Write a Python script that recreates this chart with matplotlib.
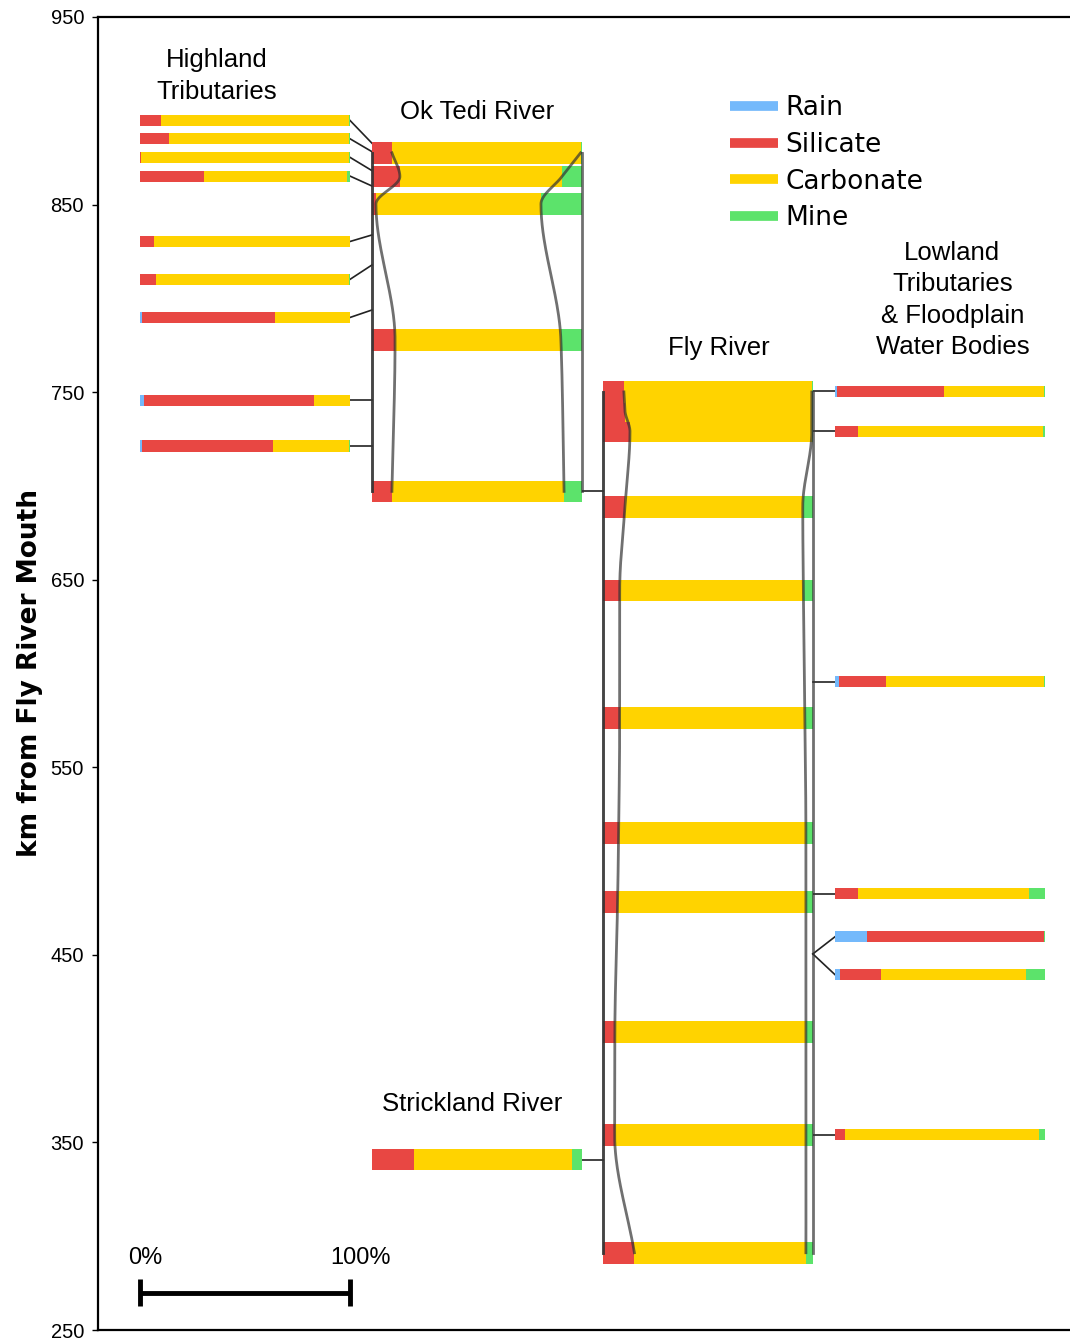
import numpy as np
import matplotlib.pyplot as plt
from matplotlib.lines import Line2D

# source names and colours
src_names = ['Rain', 'Silicate', 'Carbonate', 'Mine']
src_colors = ['#74b9fb', '#e84743', '#ffd300', '#5ce36b']

# Highland tributaries (% of each source)
hl_km = [894.9, 885.1, 875.2, 865.2, 830.3, 810.1, 789.8, 745.6, 721.3]
hl_join = [882.7, 878.2, 868.1, 859.9, 833.8, 817.8, 793.8, 745.6, 721.3]
hl_rain = [0, 0, 0, 0, 0, 0, 1, 2, 1]
hl_sil = [10, 14, 0.5, 30.5, 6.7, 7.7, 63.5, 81, 62.5]
hl_carb = [89.5, 85.5, 99, 68, 93.3, 92, 35.5, 17, 36.2]
hl_mine = [0.5, 0.5, 0.5, 1.5, 0, 0.3, 0, 0, 0.3]

# Ok Tedi River
ot_km = [877.6, 864.9, 850.3, 777.8, 697.1]
ot_rain = [0, 0, 0, 0, 0]
ot_sil = [9.5, 13.3, 1.9, 11, 9.5]
ot_carb = [89.9, 77.2, 78.6, 79, 82]
ot_mine = [0.6, 9.5, 19.5, 10, 8.5]

# Strickland River
st_km = [340.8]
st_rain = [0]
st_sil = [20]
st_carb = [75.3]
st_mine = [4.7]

# Fly River
fly_km = [750.1, 740.0, 729.0, 688.8, 644.3, 576.3, 515.0, 478.3, 409.0, 354.0, 291.2]
fly_rain = [0, 0, 0, 0, 0, 0, 0, 0, 0, 0, 0]
fly_sil = [10, 10.5, 12.9, 10.5, 8, 8, 7.5, 7, 5.7, 5.6, 15]
fly_carb = [89.5, 89, 86.6, 84.7, 87.5, 88.2, 89.2, 89.7, 91, 91.2, 81.7]
fly_mine = [0.5, 0.5, 0.5, 4.8, 4.5, 3.8, 3.3, 3.3, 3.3, 3.2, 3.3]

# Lowland tributaries & floodplain water bodies
low_km = [750.4, 729.2, 595.5, 482.7, 459.6, 439.5, 354.0]
low_join = [750.4, 729.2, 595.5, 482.7, 450.5, 450.5, 354.0]
low_rain = [1, 0, 2, 0, 15.5, 2.5, 0]
low_sil = [51, 11, 22.5, 11, 84, 19.5, 5]
low_carb = [47.5, 88, 75.3, 81.4, 0, 69.2, 92]
low_mine = [0.5, 1, 0.2, 7.6, 0.5, 8.8, 3]

# column offsets (x axis is in %, one bar = 100)
hl_x, ot_x, fly_x, low_x = 0, 110.5, 220.5, 331
thin, thick = 5.9, 11.5


def stacked(ax, x0, km, parts, h):
    left = np.full(len(km), float(x0))
    for vals, c in zip(parts, src_colors):
        vals = np.asarray(vals, float)
        ax.barh(km, vals, left=left, height=h, color=c, edgecolor='none', zorder=2)
        left = left + vals


def smooth_path(km, xs, n=40):
    # monotone cubic (pchip style) through the bar centres, x as a function of km
    km = np.asarray(km, float)
    xs = np.asarray(xs, float)
    h = np.diff(km)
    d = np.diff(xs) / h
    m = np.zeros(len(km))
    m[0], m[-1] = d[0], d[-1]
    for k in range(1, len(km) - 1):
        if d[k - 1] * d[k] > 0:
            w1 = 2 * abs(h[k]) + abs(h[k - 1])
            w2 = abs(h[k]) + 2 * abs(h[k - 1])
            m[k] = (w1 + w2) / (w1 / d[k - 1] + w2 / d[k])
    t = np.linspace(0, 1, n)
    h00 = 2 * t**3 - 3 * t**2 + 1
    h10 = t**3 - 2 * t**2 + t
    h01 = -2 * t**3 + 3 * t**2
    h11 = t**3 - t**2
    xx, yy = [], []
    for i in range(len(km) - 1):
        xx.append(h00 * xs[i] + h10 * h[i] * m[i] + h01 * xs[i + 1] + h11 * h[i] * m[i + 1])
        yy.append(km[i] + t * h[i])
    return np.concatenate(xx), np.concatenate(yy)


def boundaries(ax, x0, km, parts):
    cum = np.zeros(len(km))
    edges = [cum.copy()]
    for vals in parts:
        cum = cum + np.asarray(vals, float)
        edges.append(cum.copy())
    for e in edges:
        xs, ys = smooth_path(km, x0 + e)
        ax.plot(xs, ys, color='#333333', lw=2, alpha=0.7, zorder=3)


fig = plt.figure(figsize=(10.7, 13.41), dpi=100)
ax = fig.add_axes([98 / 1070, 1 - 1330 / 1341, 1 - 98 / 1070, (1330 - 17) / 1341])

stacked(ax, hl_x, hl_km, [hl_rain, hl_sil, hl_carb, hl_mine], thin)
stacked(ax, ot_x, ot_km, [ot_rain, ot_sil, ot_carb, ot_mine], thick)
stacked(ax, ot_x, st_km, [st_rain, st_sil, st_carb, st_mine], thick)
stacked(ax, fly_x, fly_km, [fly_rain, fly_sil, fly_carb, fly_mine], thick)
stacked(ax, low_x, low_km, [low_rain, low_sil, low_carb, low_mine], thin)

boundaries(ax, ot_x, ot_km, [ot_rain, ot_sil, ot_carb, ot_mine])
boundaries(ax, fly_x, fly_km, [fly_rain, fly_sil, fly_carb, fly_mine])

# connectors
for k, j in zip(hl_km, hl_join):
    ax.plot([hl_x + 100, ot_x], [k, j], color='#222222', lw=1.2, zorder=1)
for k, j in zip(low_km, low_join):
    ax.plot([fly_x + 100, low_x], [j, k], color='#222222', lw=1.2, zorder=1)
ax.plot([ot_x + 100, fly_x], [ot_km[-1], ot_km[-1]], color='#222222', lw=1.2, zorder=1)
ax.plot([ot_x + 100, fly_x], [st_km[0], st_km[0]], color='#222222', lw=1.2, zorder=1)

# group labels
lab = dict(family='Liberation Sans', ha='center', va='center', fontsize=18.5, linespacing=1.38)
ax.text(36.7, 918.6, 'Highland\nTributaries', **lab)
ax.text(160.5, 899.4, 'Ok Tedi River', **lab)
ax.text(275.7, 773.6, 'Fly River', **lab)
ax.text(387, 799.1, 'Lowland\nTributaries\n& Floodplain\nWater Bodies', **lab)
ax.text(158, 370.6, 'Strickland River', **lab)

# scale bar
ax.plot([0, 100], [269.8, 269.8], color='black', lw=3.5, solid_capstyle='butt')
ax.plot([0, 0], [262.6, 277.0], color='black', lw=3.5, solid_capstyle='butt')
ax.plot([100, 100], [262.6, 277.0], color='black', lw=3.5, solid_capstyle='butt')
ax.text(2.4, 288.5, '0%', family='Liberation Sans', fontsize=17, ha='center', va='center')
ax.text(105.2, 288.5, '100%', family='Liberation Sans', fontsize=17, ha='center', va='center')

# legend
handles = [Line2D([], [], color=c, lw=7, solid_capstyle='butt') for c in src_colors]
ax.legend(handles, src_names, frameon=False, fontsize=19, handlelength=1.8,
          handletextpad=0.3, labelspacing=0.41, loc='upper left', borderpad=0,
          borderaxespad=0, bbox_to_anchor=(730 / 1070, 1 - 95 / 1341),
          bbox_transform=fig.transFigure)

ax.set_xlim(-20, 443)
ax.set_ylim(250, 950)
ax.set_yticks(range(250, 951, 100))
ax.set_xticks([])
for t in ax.get_yticklabels():
    t.set_family('Liberation Sans')
    t.set_fontsize(14.5)
ax.tick_params(axis='y', length=4, width=1, pad=6)
ax.spines['right'].set_visible(False)
for s in ['left', 'top', 'bottom']:
    ax.spines[s].set_linewidth(1.6)
ax.set_ylabel('km from Fly River Mouth', fontsize=19, fontweight='bold')
ax.yaxis.set_label_coords(-0.0566, 0.5)

plt.savefig('out.png', dpi=100)
